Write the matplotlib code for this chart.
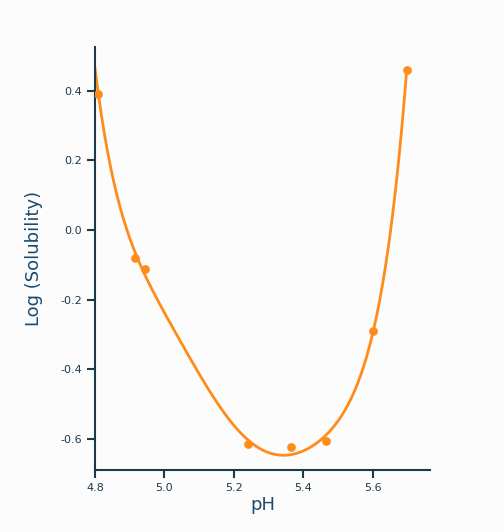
import numpy as np
import matplotlib.pyplot as plt

# data
ph = [4.81, 4.915, 4.944, 5.24, 5.364, 5.465, 5.60, 5.698]
log_sol = [0.39, -0.08, -0.111, -0.614, -0.623, -0.606, -0.291, 0.46]

# smooth trend line fitted to the points
coef = np.polyfit(ph, log_sol, 6)
xs = np.linspace(4.8, 5.698, 300)
ys = np.polyval(coef, xs)

axc = '#1d3a4a'
fig = plt.figure(figsize=(5.04, 5.32), dpi=100, facecolor='#fcfcfd')
ax = fig.add_axes([95/504, 62/532, 335/504, 423/532])
ax.set_facecolor('#fcfcfd')
ax.plot(xs, ys, color='#ff8c1a', lw=2, zorder=2)
ax.scatter(ph, log_sol, color='#ff8c1a', s=28, zorder=3)

ax.set_xlim(4.8, 5.765)
ax.set_ylim(-0.689, 0.526)
ax.set_xticks([4.8, 5.0, 5.2, 5.4, 5.6])
ax.set_xticklabels(['4.8', '5.0', '5.2', '5.4', '5.6'])
ax.set_yticks([-0.6, -0.4, -0.2, 0.0, 0.2, 0.4])
ax.set_yticklabels(['-0.6', '-0.4', '-0.2', '0.0', '0.2', '0.4'])
for s in ['top', 'right']:
    ax.spines[s].set_visible(False)
for s in ['left', 'bottom']:
    ax.spines[s].set_color(axc)
    ax.spines[s].set_linewidth(1.5)
ax.tick_params(colors=axc, labelsize=8, width=1.5, length=6)
ax.set_xlabel('pH', color='#1a4a6e', fontsize=13, labelpad=2)
ax.set_ylabel('Log (Solubility)', color='#1a4a6e', fontsize=13, labelpad=12)

fig.savefig('out.png', dpi=100, facecolor=fig.get_facecolor())
